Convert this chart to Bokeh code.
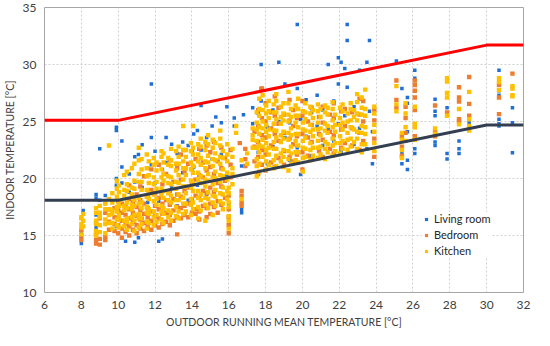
from bokeh.plotting import figure
from bokeh.models import Legend, LegendItem, Range1d, FixedTicker
from bokeh.embed import file_html
from bokeh.resources import INLINE

# ---------------- data ----------------
x_ticks = [6, 8, 10, 12, 14, 16, 18, 20, 22, 24, 26, 28, 30, 32]
y_ticks = [10, 15, 20, 25, 30, 35]

limit_x = [6, 10, 30, 32]
upper_limit = [25.1, 25.1, 31.7, 31.7]
lower_limit = [18.1, 18.1, 24.7, 24.7]

# Living room: running-mean columns and indoor temperatures read at each
living_x = [8.0, 8.1, 8.8, 9.0, 9.3, 9.9, 10.2, 10.4, 10.6, 10.9, 11.1, 11.3, 11.6, 11.8,
            12.0, 12.2, 12.4, 12.6, 12.9, 13.2, 13.5, 13.8, 14.1, 14.3, 14.5, 14.8, 15.1,
            15.3, 15.6, 15.9, 16.0, 16.3, 16.7, 16.8, 17.3, 17.6, 17.76, 18.1, 18.4, 18.72,
            19.05, 19.3, 19.72, 19.9, 20.2, 20.5, 20.8, 21.1, 21.4, 21.7, 21.95, 22.1, 22.3,
            22.43, 22.8, 23.1, 23.5, 23.64, 23.8, 25.1, 25.4, 25.7, 26.1, 27.2, 27.85, 28.5,
            29.05, 30.67, 31.4]
living_y = [[14.3, 14.8, 15.3], [16.9, 17.2], [18.3, 18.6, 16.8, 15.7], [18.1, 22.6],
            [18.5, 17.8], [24.5, 24.2, 19.4, 20.0, 15.8], [23.3, 21.0, 19.6], [14.5, 17.4],
            [18.8, 20.4], [14.4, 21.9, 19.7], [14.8, 22.1], [22.95, 19.2, 16.5], [20.9, 17.9],
            [28.3, 23.6, 21.2], [19.6, 22.4], [14.5, 18.0], [14.7, 20.8], [23.6, 21.4],
            [23.0, 19.3], [22.2, 17.6], [23.2, 20.5], [22.9, 18.1], [23.9, 21.0], [24.2, 19.4],
            [26.4, 22.5], [23.6, 18.6], [24.6, 21.7], [25.4, 19.9], [24.9, 22.1], [26.3, 20.3],
            [16.0, 17.8], [25.3, 24.6], [17.0, 17.3, 21.1], [25.6], [26.2, 24.8], [22.3, 25.7],
            [30.0, 27.9, 26.8], [24.5, 21.3], [26.0, 22.8], [30.2, 25.0], [28.3, 23.6],
            [24.9, 21.6], [33.5, 27.9, 22.7], [20.35, 25.2], [23.7, 26.9], [22.0, 25.8],
            [24.6, 27.3], [22.9, 26.0], [30.0, 24.3], [23.3, 26.8], [30.6, 28.3, 24.8],
            [30.2, 22.4], [29.65, 25.5], [33.5, 32.1, 28.0], [23.0, 26.3], [29.5, 24.4],
            [30.2, 22.6], [32.1, 25.9], [21.3, 24.1], [30.3], [27.9, 22.2, 21.3],
            [27.1, 26.6, 24.1, 21.6, 20.8], [29.5, 28.8, 22.6, 22.2],
            [26.95, 25.9, 25.5, 23.2, 22.9], [26.2, 22.2, 21.7], [23.3, 22.6, 22.2], [24.9],
            [29.5, 27.7, 27.3, 25.2, 24.8, 24.6], [26.2, 24.9, 22.25]]

bedroom_x = [8.0, 8.8, 9.0, 9.3, 9.5, 9.8, 10.0, 10.2, 10.4, 10.6, 10.8, 11.0, 11.2, 11.4,
             11.6, 11.8, 12.0, 12.2, 12.4, 12.6, 12.8, 13.0, 13.2, 13.4, 13.6, 13.8, 14.0,
             14.2, 14.4, 14.6, 14.8, 15.0, 15.2, 15.4, 15.6, 15.8, 16.0, 16.1, 16.6, 16.7,
             16.9, 17.4, 17.6, 17.8, 18.0, 18.3, 18.5, 18.7, 19.0, 19.3, 19.5, 19.7, 20.0,
             20.3, 20.5, 20.9, 21.1, 21.5, 21.7, 22.1, 22.3, 22.7, 23.1, 23.3, 23.9, 25.1,
             25.4, 25.6, 26.1, 27.2, 27.85, 28.5, 29.05, 30.67, 31.4]
bedroom_y = [[14.6, 15.0, 15.5], [14.3, 14.6, 15.2, 16.1], [14.2, 14.7, 16.5], [14.6, 14.9, 17.0],
             [15.5, 16.2, 17.3], [15.4, 16.0, 16.6, 17.4], [15.2, 15.9, 16.5, 17.2, 18.0],
             [14.8, 15.6, 16.3, 17.0, 17.8], [15.3, 16.0, 16.8, 17.6],
             [15.0, 15.8, 16.5, 17.3, 18.2, 19.4], [15.5, 16.2, 17.0, 17.9],
             [15.2, 15.9, 16.7, 17.5, 18.6], [15.6, 16.4, 17.2, 18.1, 19.3],
             [15.4, 16.1, 16.9, 17.8, 20.2], [15.8, 16.6, 17.4, 18.5],
             [15.5, 16.3, 17.1, 19.0, 20.8], [15.9, 16.7, 17.6, 18.7],
             [15.7, 16.5, 17.3, 18.3, 21.2], [16.0, 16.9, 17.8, 19.5], [16.2, 17.0, 18.1, 20.4],
             [15.9, 16.8, 17.7, 18.9, 21.6], [16.3, 17.2, 18.2, 19.7],
             [15.1, 16.6, 17.5, 18.6, 20.9], [16.5, 17.4, 18.4, 19.9, 22.1],
             [16.8, 17.6, 18.9, 20.6], [16.6, 17.8, 19.2, 21.3], [17.0, 18.1, 19.5, 20.8, 22.4],
             [16.9, 17.3, 18.5, 19.9, 21.7], [16.4, 17.1, 18.3, 20.3, 22.6],
             [17.6, 18.9, 20.1, 21.4], [16.6, 17.4, 18.7, 20.7, 22.9],
             [16.9, 17.8, 19.2, 21.0, 22.3], [17.5, 18.8, 20.4, 23.2], [17.0, 18.0, 19.6, 21.5],
             [17.7, 19.3, 20.9, 22.7], [18.3, 19.8, 21.8], [15.2, 15.9, 16.6, 17.3, 18.5],
             [20.1, 21.2, 22.5], [23.1], [17.6, 17.9, 18.5, 18.9], [21.1, 21.7, 22.6],
             [21.5, 22.8, 24.1], [20.4, 21.9, 23.2, 24.6, 26.0], [21.2, 22.5, 23.8, 25.3, 27.9],
             [20.7, 22.1, 23.6, 25.0, 26.6], [21.4, 22.9, 24.4, 25.8],
             [21.0, 22.6, 23.9, 25.5, 27.2], [21.8, 23.3, 24.8, 26.2], [21.2, 22.4, 24.0, 25.6],
             [21.9, 23.5, 25.1, 26.9], [21.5, 23.0, 24.6, 26.0], [22.1, 23.7, 25.3],
             [20.8, 22.3, 23.9, 25.5, 26.8], [22.0, 23.6, 25.0], [21.7, 23.2, 24.7, 26.2],
             [22.4, 23.9, 25.4], [21.9, 23.4, 24.9, 26.3], [22.6, 24.1, 25.6],
             [22.2, 23.8, 25.3, 26.6], [22.7, 24.3, 25.9], [23.1, 24.6, 26.1],
             [22.9, 24.4, 25.8], [22.5, 24.0, 25.6, 27.0], [23.3, 25.0, 26.8],
             [21.9, 23.5, 25.1, 26.0], [28.6, 26.9, 26.2], [22.0, 22.8, 23.7],
             [24.0, 25.3, 26.3], [28.6, 28.2, 27.7, 27.1, 26.0, 23.7], [26.4, 24.1, 23.7],
             [25.8], [28.0, 27.1, 26.75, 25.2, 25.0], [28.9, 26.55, 25.5], [28.2, 27.1, 25.65],
             [29.2]]

kitchen_x = [8.0, 8.1, 8.8, 9.0, 9.3, 9.5, 9.68, 9.93, 10.04, 10.33, 10.47, 10.74, 10.88, 11.12,
             11.27, 11.55, 11.66, 11.93, 12.08, 12.35, 12.46, 12.72, 12.87, 13.14, 13.28, 13.53,
             13.67, 13.95, 14.06, 14.34, 14.48, 14.73, 14.88, 15.13, 15.27, 15.54, 15.68, 15.92,
             16.0, 16.2, 16.4, 16.7, 17.0, 17.3, 17.52, 17.66, 17.84, 18.03, 18.17, 18.44, 18.58,
             18.83, 18.97, 19.24, 19.38, 19.63, 19.77, 20.02, 20.16, 20.43, 20.57, 20.84, 20.98,
             21.23, 21.37, 21.64, 21.78, 22.04, 22.18, 22.45, 22.62, 22.8, 22.97, 23.22, 23.41,
             23.9, 25.1, 25.4, 25.6, 26.1, 27.2, 27.85, 28.5, 29.05, 30.67, 31.4]
kitchen_y = [[15.1, 15.7, 16.0, 16.5, 16.6], [15.8, 16.3, 16.9], [15.0, 15.4, 16.0, 16.3, 17.0, 17.4],
             [15.3, 15.9, 16.6, 17.0, 17.6], [15.2, 16.0, 16.4, 17.3, 17.8],
             [16.1, 16.8, 17.3, 18.2, 22.9], [15.6, 16.1, 16.9, 17.2, 17.9, 18.7],
             [15.9, 16.4, 17.1, 17.5, 18.4, 19.1, 19.8], [15.7, 16.4, 16.8, 17.6, 18.0, 18.8, 19.4],
             [15.8, 16.3, 17.2, 17.6, 18.5, 19.0, 20.3],
             [15.5, 16.2, 16.5, 17.4, 17.9, 18.9, 19.5, 20.6],
             [16.0, 16.6, 17.3, 17.7, 18.6, 19.2, 20.9],
             [15.4, 16.3, 16.8, 17.6, 18.1, 19.1, 19.8, 21.3],
             [15.7, 16.5, 16.9, 17.8, 18.3, 19.7, 20.4, 21.6, 22.7],
             [16.0, 16.5, 17.4, 17.9, 19.0, 19.7, 20.8, 21.7],
             [15.6, 16.2, 17.0, 17.5, 18.4, 19.0, 20.2, 20.9, 22.1],
             [16.1, 16.9, 17.3, 18.2, 18.7, 19.6, 20.3, 21.5],
             [15.9, 16.6, 17.1, 18.0, 18.6, 19.5, 20.1, 21.2, 21.8],
             [16.2, 16.8, 17.7, 18.2, 19.1, 19.7, 20.7, 21.4],
             [16.4, 17.1, 17.6, 18.6, 19.1, 20.1, 20.8, 21.9, 22.4],
             [16.1, 16.9, 17.4, 18.3, 18.9, 19.8, 20.4, 21.4, 22.2],
             [16.6, 17.2, 18.1, 18.7, 19.6, 20.2, 21.2, 21.8],
             [16.3, 17.0, 17.9, 18.5, 19.5, 20.1, 21.1, 21.6, 22.6],
             [16.7, 17.5, 18.1, 19.1, 19.7, 20.7, 21.3, 22.4],
             [16.5, 17.1, 18.1, 18.6, 19.6, 20.3, 21.3, 21.9, 22.8],
             [16.9, 17.8, 18.3, 19.3, 19.9, 20.9, 21.5, 22.5, 24.6],
             [17.1, 17.8, 18.7, 19.3, 20.3, 20.9, 21.9, 22.5],
             [16.8, 17.7, 18.2, 19.2, 19.8, 20.8, 21.4, 22.4, 23.1],
             [17.3, 17.9, 18.9, 19.5, 20.5, 21.1, 22.1, 22.7, 24.6],
             [16.5, 17.5, 18.3, 18.9, 19.9, 20.5, 21.5, 22.1, 23.0],
             [17.2, 18.1, 18.6, 19.6, 20.2, 21.2, 21.8, 22.8, 23.5],
             [16.3, 17.7, 18.3, 19.3, 19.9, 20.9, 21.5, 22.5, 23.2],
             [17.4, 18.2, 18.8, 19.8, 20.4, 21.4, 22.0, 23.0, 23.8],
             [16.8, 17.9, 18.5, 19.5, 20.1, 21.1, 21.7, 22.7, 23.4],
             [17.6, 18.4, 19.0, 20.0, 20.6, 21.6, 22.2, 23.1],
             [18.0, 18.7, 19.7, 20.3, 21.3, 21.9, 22.9, 23.5, 24.2],
             [17.3, 17.8, 18.6, 19.2, 20.2, 20.8, 21.8, 22.4],
             [18.2, 18.9, 19.9, 20.5, 21.5, 22.1, 23.0],
             [15.6, 16.3, 16.7, 17.5, 17.9, 18.7, 19.2], [19.5, 20.4, 20.9, 21.9, 22.6],
             [24.0, 24.6], [18.2, 21.6], [21.3, 22.2], [22.7, 23.4, 23.8, 24.4],
             [20.2, 21.1, 21.7, 22.7, 23.3, 24.3, 24.9, 25.8],
             [20.6, 21.3, 22.3, 22.9, 23.9, 24.5, 25.5, 26.1, 27.0],
             [21.9, 22.8, 23.4, 24.4, 25.0, 26.0, 27.3],
             [20.8, 21.5, 22.5, 23.1, 24.1, 24.7, 25.7, 26.4],
             [21.2, 22.1, 22.7, 23.7, 24.3, 25.3, 25.9, 26.8],
             [20.9, 21.6, 22.6, 23.2, 24.2, 24.8, 25.8, 26.5],
             [21.1, 22.0, 22.6, 23.6, 24.2, 25.2, 25.8, 26.8, 27.4],
             [21.5, 22.2, 23.2, 23.8, 24.8, 25.4, 26.3],
             [21.0, 21.9, 22.5, 23.5, 24.1, 25.1, 25.7, 26.6],
             [20.7, 21.7, 22.4, 23.4, 24.0, 25.0, 25.6, 26.6, 27.6],
             [21.3, 22.2, 22.8, 23.8, 24.4, 25.4, 26.1],
             [21.6, 22.3, 23.3, 23.9, 24.9, 25.5, 26.4],
             [21.4, 22.3, 22.9, 23.9, 24.5, 25.5, 26.1, 27.0],
             [20.6, 21.8, 22.7, 23.3, 24.3, 24.9, 25.9],
             [21.9, 22.6, 23.6, 24.2, 25.2, 25.8, 26.6],
             [21.6, 22.5, 23.1, 24.1, 24.7, 25.7, 26.3],
             [22.0, 22.7, 23.7, 24.3, 25.3, 26.0],
             [21.8, 22.7, 23.3, 24.3, 24.9, 25.9, 26.5],
             [22.1, 22.8, 23.8, 24.4, 25.4, 26.1],
             [21.7, 22.6, 23.2, 24.2, 24.8, 25.8, 26.4],
             [22.3, 23.0, 24.0, 24.6, 25.6, 26.2],
             [22.0, 22.9, 23.5, 24.5, 25.1, 26.1, 26.7],
             [22.4, 23.1, 24.1, 24.7, 25.6],
             [22.2, 23.1, 23.7, 24.7, 25.3, 26.2],
             [22.6, 23.3, 24.3, 24.9, 25.9, 26.5],
             [22.5, 23.4, 24.0, 25.0, 25.7],
             [22.8, 23.5, 24.5, 25.1, 26.1, 26.6],
             [23.2, 24.3, 25.4, 26.0],
             [22.6, 23.5, 24.1, 25.1, 25.7, 26.7, 27.4],
             [22.3, 23.0, 24.0, 24.6, 25.6, 26.2, 27.1],
             [23.0, 23.9, 24.5, 25.5, 26.1, 27.8],
             [22.4, 23.1, 24.1, 24.7, 25.7, 26.3],
             [28.1, 26.5, 25.9], [21.8, 22.5, 23.4, 24.0], [23.3, 24.5, 25.7, 26.6],
             [26.3, 24.8, 24.5, 23.4], [24.4, 23.9], [28.8, 28.5, 27.5, 27.1, 25.5],
             [26.1, 24.75], [27.6, 25.2, 24.6, 24.2], [28.8, 28.45, 27.75],
             [28.1, 27.9, 27.3, 27.2]]

series_names = ["Living room", "Bedroom", "Kitchen"]
series_colors = ["#1F6FD6", "#ED7D31", "#FFC000"]
series_sizes = [3.5, 4.4, 4.4]


def expand(cols, vals):
    fx, fy = [], []
    for x, col in zip(cols, vals):
        for y in col:
            fx.append(x)
            fy.append(y)
    return fx, fy


FONT = "Lato"
TEXT = "#404040"

p = figure(width=534, height=330, output_backend="svg", toolbar_location=None,
           x_range=Range1d(6, 32), y_range=Range1d(10, 35),
           min_border_left=36, min_border_right=11, min_border_top=7, min_border_bottom=35)
p.background_fill_color = "white"
p.border_fill_color = "white"
p.outline_line_color = "#A6A6A6"
p.outline_line_width = 1

for g in (p.xgrid, p.ygrid):
    g.grid_line_color = "#D0D0D0"
    g.grid_line_dash = "2 2"
    g.grid_line_width = 1

p.xaxis.ticker = FixedTicker(ticks=x_ticks)
p.yaxis.ticker = FixedTicker(ticks=y_ticks)
for ax in (p.xaxis, p.yaxis):
    ax.axis_line_color = None
    ax.major_tick_line_color = None
    ax.minor_tick_line_color = None
    ax.major_tick_out = 0
    ax.major_tick_in = 0
    ax.major_label_text_font = FONT
    ax.major_label_text_font_size = "12px"
    ax.major_label_text_color = TEXT
    ax.axis_label_text_font = FONT
    ax.axis_label_text_font_size = "10.5px"
    ax.axis_label_text_font_style = "normal"
    ax.axis_label_text_color = TEXT
p.xaxis.axis_label = "OUTDOOR RUNNING MEAN TEMPERATURE [°C]"
p.yaxis.axis_label = "INDOOR TEMPERATURE [°C]"
p.xaxis.major_label_standoff = 8
p.xaxis.axis_label_standoff = 4
p.yaxis.major_label_standoff = 8
p.yaxis.axis_label_standoff = 4

renderers = []
for cols, vals, color, size in ((living_x, living_y, series_colors[0], series_sizes[0]),
                                (bedroom_x, bedroom_y, series_colors[1], series_sizes[1]),
                                (kitchen_x, kitchen_y, series_colors[2], series_sizes[2])):
    fx, fy = expand(cols, vals)
    r = p.scatter(fx, fy, marker="square", size=size, fill_color=color, line_color=None)
    renderers.append(r)

p.line(limit_x, upper_limit, line_color="#FF0000", line_width=3)
p.line(limit_x, lower_limit, line_color="#333F50", line_width=3)

legend = Legend(items=[LegendItem(label=n, renderers=[r]) for n, r in zip(series_names, renderers)],
                location=(378, 35))
legend.background_fill_color = "white"
legend.background_fill_alpha = 1
legend.border_line_color = None
legend.label_text_font = FONT
legend.label_text_font_size = "11px"
legend.label_text_color = "#262626"
legend.glyph_width = 8
legend.glyph_height = 12
legend.label_height = 12
legend.label_standoff = 4
legend.spacing = 3
legend.padding = 4
legend.margin = 0
p.add_layout(legend, "center")

open("out.html", "w").write(file_html(p, INLINE))
